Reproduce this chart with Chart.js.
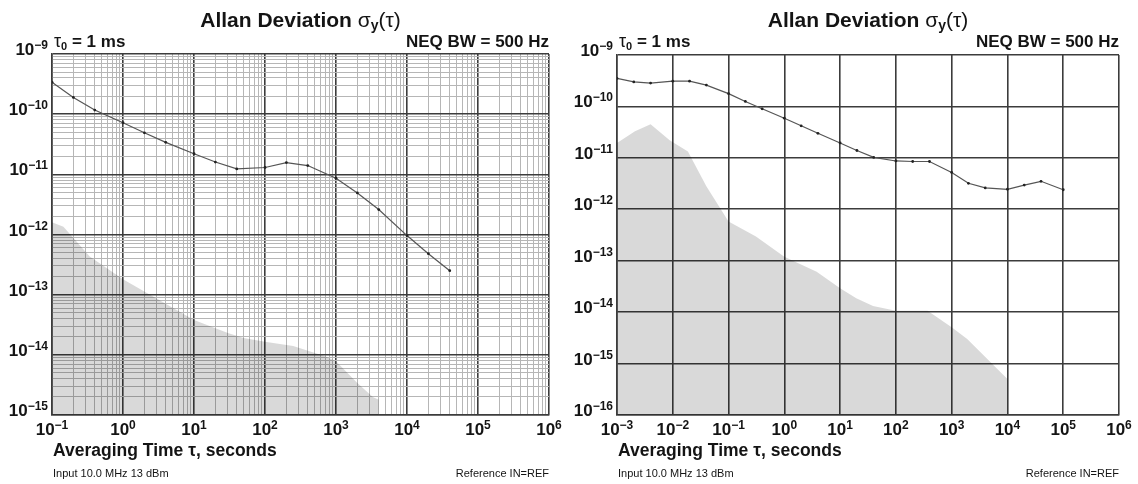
<!DOCTYPE html>
<html>
<head>
<meta charset="utf-8">
<script src="https://cdn.jsdelivr.net/npm/chart.js@4"></script>
<style>
  body { margin: 0; background: #fff; }
  #wrap { position: relative; width: 1138px; height: 484px; background: #fff; }
  canvas { position: absolute; top: 0; }
</style>
</head>
<body>
<div id="wrap">
  <canvas id="adev-left" width="569" height="484" style="left:0"></canvas>
  <canvas id="adev-right" width="569" height="484" style="left:569px"></canvas>
</div>
<script>
// left plot: tau 0.1 s .. 1e6 s
const LEFT_TAU = [0.1, 0.2, 0.4, 1, 2, 4, 10, 20, 40, 100, 200, 400, 1000, 2000, 4000, 10000, 20000, 40000];
const LEFT_ADEV = [3.4e-10, 1.9e-10, 1.17e-10, 7.2e-11, 4.9e-11, 3.4e-11, 2.2e-11, 1.6e-11, 1.23e-11, 1.3e-11,
                   1.57e-11, 1.4e-11, 8.6e-12, 4.9e-12, 2.6e-12, 9.6e-13, 4.8e-13, 2.5e-13];
const LEFT_FLOOR_TAU = [0.1, 0.145, 0.34, 1, 2.4, 10, 30, 50, 100, 250, 700, 1000, 2000, 3300, 4000];
const LEFT_FLOOR = [1.6e-12, 1.35e-12, 4.3e-13, 1.8e-13, 1e-13, 3.8e-14, 2.3e-14, 1.9e-14, 1.65e-14, 1.4e-14,
                    9.5e-15, 7.8e-15, 3.4e-15, 2e-15, 1.8e-15];
const LEFT_X_TICKS = [1e-1, 1e0, 1e1, 1e2, 1e3, 1e4, 1e5, 1e6];
const LEFT_Y_TICKS = [1e-15, 1e-14, 1e-13, 1e-12, 1e-11, 1e-10, 1e-9];

// right plot: tau 1 ms .. 1e6 s
const RIGHT_TAU = [0.001, 0.002, 0.004, 0.01, 0.02, 0.04, 0.1, 0.2, 0.4, 1, 2, 4, 10, 20, 40, 100, 200, 400,
                   1000, 2000, 4000, 10000, 20000, 40000, 100000];
const RIGHT_ADEV = [3.5e-10, 3.0e-10, 2.85e-10, 3.1e-10, 3.1e-10, 2.6e-10, 1.77e-10, 1.25e-10, 9.0e-11, 5.9e-11,
                    4.2e-11, 3.0e-11, 1.95e-11, 1.39e-11, 1.02e-11, 8.7e-12, 8.5e-12, 8.5e-12, 5.2e-12, 3.2e-12,
                    2.6e-12, 2.45e-12, 2.95e-12, 3.5e-12, 2.4e-12];
const RIGHT_FLOOR_TAU = [0.001, 0.0021, 0.004, 0.0088, 0.0187, 0.04, 0.1, 0.31, 1, 3.8, 10, 19.5, 39, 100, 370,
                         1000, 1900, 10000];
const RIGHT_FLOOR = [1.94e-11, 3.3e-11, 4.5e-11, 2.2e-11, 1.33e-11, 2.8e-12, 5.8e-13, 2.95e-13, 1.2e-13, 6.1e-14,
                     2.9e-14, 1.86e-14, 1.32e-14, 1.07e-14, 1.07e-14, 5.1e-15, 3.0e-15, 5e-16];
const RIGHT_X_TICKS = [1e-3, 1e-2, 1e-1, 1e0, 1e1, 1e2, 1e3, 1e4, 1e5, 1e6];
const RIGHT_Y_TICKS = [1e-16, 1e-15, 1e-14, 1e-13, 1e-12, 1e-11, 1e-10, 1e-9];

const TITLE = "Allan Deviation ";
const TAU0 = " = 1 ms";
const NEQ = "NEQ BW = 500 Hz";
const X_TITLE = "Averaging Time \u03c4, seconds";
const INPUT = "Input 10.0 MHz 13 dBm";
const REF = "Reference IN=REF";

const FONT = "'Liberation Sans', Arial, sans-serif";
const INK = "#141414";

function isDecade(v) {
    const l = Math.log10(v);
    return Math.abs(l - Math.round(l)) < 1e-6;
}

// decade ticks plus the 2..9 multiples in between (for the fine log grid)
function withMinors(decades) {
    const out = [];
    decades.forEach((d, i) => {
        out.push(d);
        if (i < decades.length - 1) {
            const e = Math.round(Math.log10(d));
            for (let m = 2; m <= 9; m++) out.push(Number(m + "e" + e));
        }
    });
    return out;
}

function toPoints(xs, ys) {
    return xs.map((x, i) => ({ x, y: ys[i] }));
}

function drawParts(ctx, x, y, parts, align) {
    let w = 0;
    parts.forEach(p => { ctx.font = p.font; w += ctx.measureText(p.text).width; });
    let cx = align === "right" ? x - w : align === "center" ? x - w / 2 : x;
    parts.forEach(p => {
        ctx.font = p.font;
        ctx.fillText(p.text, cx, y + (p.dy || 0));
        cx += ctx.measureText(p.text).width;
    });
}

function powerParts(v) {
    const e = Math.round(Math.log10(v));
    const exp = e < 0 ? "\u2212" + (-e) : String(e);
    return [
        { text: "10", font: `bold 17px ${FONT}` },
        { text: exp, font: `bold 12px ${FONT}`, dy: -6 },
    ];
}

const labelsPlugin = {
    id: "adevLabels",
    afterDraw(chart) {
        const ctx = chart.ctx;
        const a = chart.chartArea;
        const xs = chart.scales.x, ys = chart.scales.y;
        ctx.save();
        ctx.fillStyle = INK;
        ctx.textBaseline = "alphabetic";

        xs.ticks.filter(t => isDecade(t.value)).forEach(t => {
            drawParts(ctx, xs.getPixelForValue(t.value), a.bottom + 20, powerParts(t.value), "center");
        });
        ys.ticks.filter(t => isDecade(t.value)).forEach(t => {
            drawParts(ctx, a.left - 4, ys.getPixelForValue(t.value) + 1, powerParts(t.value), "right");
        });

        const mid = (a.left + a.right) / 2;
        drawParts(ctx, mid, 27, [
            { text: TITLE, font: `bold 21px ${FONT}` },
            { text: "\u03c3", font: `21px ${FONT}` },
            { text: "y", font: `bold 14px ${FONT}`, dy: 3 },
            { text: "(\u03c4)", font: `21px ${FONT}` },
        ], "center");

        drawParts(ctx, a.left + 2, 47, [
            { text: "\u03c4", font: `18px ${FONT}` },
            { text: "0", font: `bold 11px ${FONT}`, dy: 3 },
            { text: TAU0, font: `bold 17px ${FONT}` },
        ], "left");
        drawParts(ctx, a.right, 47, [{ text: NEQ, font: `bold 17px ${FONT}` }], "right");

        drawParts(ctx, a.left + 1, 456, [{ text: X_TITLE, font: `bold 17.5px ${FONT}` }], "left");
        drawParts(ctx, a.left + 1, 477, [{ text: INPUT, font: `11px ${FONT}` }], "left");
        drawParts(ctx, a.right, 477, [{ text: REF, font: `11px ${FONT}` }], "right");
        ctx.restore();
    }
};

function logAxis(ticks, fine) {
    const all = fine ? withMinors(ticks) : ticks;
    return {
        type: "logarithmic",
        min: ticks[0],
        max: ticks[ticks.length - 1],
        afterBuildTicks: scale => {
            scale.ticks = all.map(v => ({ value: v, major: isDecade(v) }));
        },
        ticks: { display: false, autoSkip: false },
        grid: {
            drawTicks: false,
            color: c => (isDecade(c.tick.value) ? "#3c3c3c" : "#b6b6b6"),
            lineWidth: c => (isDecade(c.tick.value) ? 1.6 : 1),
        },
        border: { display: true, color: "#3c3c3c", width: 1.5 },
    };
}

function makeChart(id, cfg) {
    return new Chart(document.getElementById(id), {
        type: "line",
        data: {
            datasets: [
                {
                    label: "ADEV",
                    data: toPoints(cfg.tau, cfg.adev),
                    borderColor: "#555",
                    borderWidth: 1.2,
                    pointRadius: 1.4,
                    pointBackgroundColor: "#222",
                    pointBorderWidth: 0,
                    fill: false,
                    tension: 0,
                },
                {
                    label: "Noise floor",
                    data: toPoints(cfg.floorTau, cfg.floor),
                    borderWidth: 0,
                    pointRadius: 0,
                    backgroundColor: "rgba(0,0,0,0.15)",
                    fill: "start",
                    tension: 0,
                },
            ],
        },
        options: {
            responsive: false,
            animation: false,
            devicePixelRatio: 1,
            layout: { padding: cfg.padding },
            plugins: { legend: { display: false }, tooltip: { enabled: false }, title: { display: false } },
            scales: {
                x: logAxis(cfg.xTicks, cfg.fine),
                y: logAxis(cfg.yTicks, cfg.fine),
            },
        },
        plugins: [labelsPlugin],
    });
}

makeChart("adev-left", {
    tau: LEFT_TAU, adev: LEFT_ADEV, floorTau: LEFT_FLOOR_TAU, floor: LEFT_FLOOR,
    xTicks: LEFT_X_TICKS, yTicks: LEFT_Y_TICKS, fine: true,
    padding: { left: 52, right: 20, top: 54, bottom: 69 },
});

makeChart("adev-right", {
    tau: RIGHT_TAU, adev: RIGHT_ADEV, floorTau: RIGHT_FLOOR_TAU, floor: RIGHT_FLOOR,
    xTicks: RIGHT_X_TICKS, yTicks: RIGHT_Y_TICKS, fine: false,
    padding: { left: 48, right: 19, top: 55, bottom: 69 },
});
</script>
</body>
</html>
